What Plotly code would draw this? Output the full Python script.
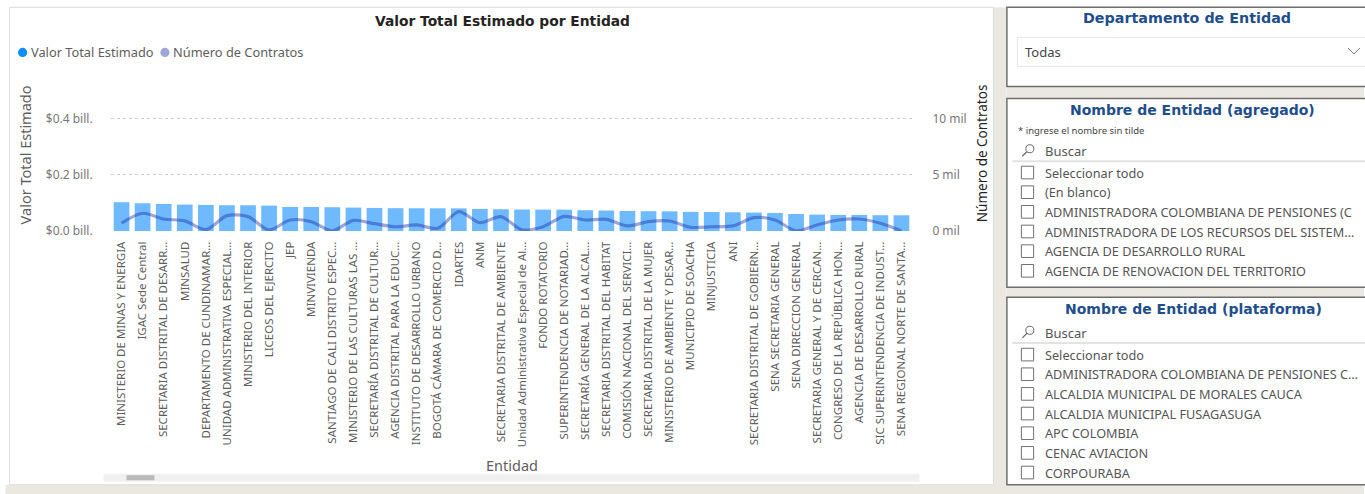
import plotly.graph_objects as go

entidades = [
    "MINISTERIO DE MINAS Y ENERGIA", "IGAC Sede Central", "SECRETARIA DISTRITAL DE DESARR…",
    "MINSALUD", "DEPARTAMENTO DE CUNDINAMAR…", "UNIDAD ADMINISTRATIVA ESPECIAL…",
    "MINISTERIO DEL INTERIOR", "LICEOS DEL EJERCITO", "JEP", "MINVIVIENDA",
    "SANTIAGO DE CALI DISTRITO ESPEC…", "MINISTERIO DE LAS CULTURAS LAS …",
    "SECRETARÍA DISTRITAL DE CULTUR…", "AGENCIA DISTRITAL PARA LA EDUC…",
    "INSTITUTO DE DESARROLLO URBANO", "BOGOTÁ CÁMARA DE COMERCIO D…", "IDARTES", "ANM",
    "SECRETARIA DISTRITAL DE AMBIENTE", "Unidad Administrativa Especial de Al…",
    "FONDO ROTATORIO", "SUPERINTENDENCIA DE NOTARIAD…", "SECRETARÍA GENERAL DE LA ALCAL…",
    "SECRETARIA DISTRITAL DEL HABITAT", "COMISIÓN NACIONAL DEL SERVICI…",
    "SECRETARIA DISTRITAL DE LA MUJER", "MINISTERIO DE AMBIENTE Y DESAR…",
    "MUNICIPIO DE SOACHA", "MINJUSTICIA", "ANI", "SECRETARIA DISTRITAL DE GOBIERN…",
    "SENA SECRETARIA GENERAL", "SENA DIRECCION GENERAL", "SECRETARIA GENERAL Y DE CERCAN…",
    "CONGRESO DE LA REPÚBLICA HON…", "AGENCIA DE DESARROLLO RURAL",
    "SIC SUPERINTENDENCIA DE INDUST…", "SENA REGIONAL NORTE DE SANTA…",
]

# Valor Total Estimado (pesos)
valor_total = [
    102.5e9, 98.9e9, 96.4e9, 94.0e9, 92.9e9, 91.8e9, 91.6e9, 90.4e9, 85.7e9, 85.5e9,
    84.6e9, 83.3e9, 82.1e9, 81.2e9, 81.0e9, 80.8e9, 80.5e9, 78.6e9, 77.5e9, 76.5e9,
    76.2e9, 76.0e9, 74.0e9, 73.0e9, 71.5e9, 70.5e9, 70.0e9, 68.0e9, 67.6e9, 66.7e9,
    65.5e9, 64.3e9, 60.7e9, 58.3e9, 57.2e9, 57.0e9, 56.2e9, 56.0e9,
]

# Número de Contratos
contratos = [
    710, 1580, 1070, 900, 120, 1370, 1280, 100, 980, 830,
    20, 950, 650, 380, 540, 240, 1720, 740, 1280, 100,
    380, 1300, 980, 1040, 450, 830, 890, 330, 380, 450,
    1190, 980, 20, 540, 980, 1070, 690, 10,
]

y_ticks = [0, 0.2e12, 0.4e12]
y_ticktext = ["$0.0 bill.", "$0.2 bill.", "$0.4 bill."]
y2_ticks = [0, 5000, 10000]
y2_ticktext = ["0 mil", "5 mil", "10 mil"]

slicer_agregado = ["Seleccionar todo", "(En blanco)", "ADMINISTRADORA COLOMBIANA DE PENSIONES (C",
                   "ADMINISTRADORA DE LOS RECURSOS DEL SISTEM…", "AGENCIA DE DESARROLLO RURAL",
                   "AGENCIA DE RENOVACION DEL TERRITORIO"]
slicer_plataforma = ["Seleccionar todo", "ADMINISTRADORA COLOMBIANA DE PENSIONES C…",
                     "ALCALDIA MUNICIPAL DE MORALES CAUCA", "ALCALDIA MUNICIPAL FUSAGASUGA",
                     "APC COLOMBIA", "CENAC AVIACION", "CORPOURABA"]

# ---- layout geometry (pixels) ----
FW, FH = 1365, 494
L, R, B = 110.5, 912.5, 231.0
YMAX = 0.47e12
H = YMAX / 0.2e12 * 56.0
T = B - H
W = R - L
Y2MAX = YMAX / 0.2e12 * 5000


def px(x, y):
    return (x - L) / W, (B - y) / H


FONT = "Noto Sans"
BOLD = "DejaVu Sans"

fig = go.Figure()
fig.add_trace(go.Bar(
    x=entidades, y=valor_total, name="Valor Total Estimado",
    marker=dict(color="#118DFF", line=dict(width=0)), opacity=0.6,
    showlegend=False, hoverinfo="x+y",
))
fig.add_trace(go.Scatter(
    x=entidades, y=contratos, name="Número de Contratos", yaxis="y2",
    mode="lines", line=dict(color="#12239E", width=3.2, shape="spline", smoothing=0.8),
    opacity=0.4, showlegend=False,
))

shapes = []
annotations = []


def rect(x0, y0, x1, y1, fill=None, line=None, lw=1, layer="below"):
    a0, b0 = px(x0, y0)
    a1, b1 = px(x1, y1)
    shapes.append(dict(type="rect", xref="paper", yref="paper", x0=a0, y0=b0, x1=a1, y1=b1,
                       fillcolor=fill if fill else "rgba(0,0,0,0)",
                       line=dict(color=line if line else "rgba(0,0,0,0)", width=lw if line else 0),
                       layer=layer))


def seg(x0, y0, x1, y1, color, lw=1, layer="above"):
    a0, b0 = px(x0, y0)
    a1, b1 = px(x1, y1)
    shapes.append(dict(type="line", xref="paper", yref="paper", x0=a0, y0=b0, x1=a1, y1=b1,
                       line=dict(color=color, width=lw), layer=layer))


def circ(cx, cy, r, fill=None, line=None, lw=1, layer="above"):
    a0, b0 = px(cx - r, cy + r)
    a1, b1 = px(cx + r, cy - r)
    shapes.append(dict(type="circle", xref="paper", yref="paper", x0=a0, y0=b0, x1=a1, y1=b1,
                       fillcolor=fill if fill else "rgba(0,0,0,0)",
                       line=dict(color=line if line else "rgba(0,0,0,0)", width=lw if line else 0),
                       layer=layer))


def text(x, y, s, size=12, color="#605E5C", family=FONT, xanchor="left", angle=0, bold=False):
    a, b = px(x, y)
    annotations.append(dict(xref="paper", yref="paper", x=a, y=b, text=("<b>%s</b>" % s) if bold else s,
                            showarrow=False, xanchor=xanchor, yanchor="middle", textangle=angle,
                            font=dict(size=size, color=color, family=family)))


BEIGE = "#EAE8E0"
# page background pieces
rect(994, 8, 1007, FH, fill=BEIGE)
rect(5, 484, FW, FH, fill=BEIGE)
rect(1007, 87, FW, 99, fill=BEIGE)
rect(1007, 287, FW, 297, fill=BEIGE)
# chart card
rect(9, 8, 994, 484, fill="white", line="#DCDCDC", lw=1)
# slicer cards
for (y0, y1) in [(8, 87), (99, 287), (297, 484)]:
    rect(1007.5, y0, FW + 2, y1, fill="white", line="#6E6E6E", lw=1.5)

# chart title and legend
text(502, 21.5, "Valor Total Estimado por Entidad", size=13.8, color="#252423", family=BOLD,
     xanchor="center", bold=True)
circ(22, 53, 4.6, fill="#118DFF")
text(28.5, 53, "Valor Total Estimado", size=12.8)
circ(164.5, 53, 4.6, fill="#A0A7D8")
text(171, 53, "Número de Contratos", size=12.8)

# axis titles
text(24, 155, "Valor Total Estimado", size=14.5, color="#605E5C", xanchor="center", angle=-90)
text(982, 153, "Número de Contratos", size=13.5, color="#252423", xanchor="center", angle=-90)
text(511.5, 464, "Entidad", size=14.5, color="#605E5C", xanchor="center")

# scrollbar
rect(103, 473, 920, 481, fill="#F0F0F0", layer="above")
rect(126, 474.5, 154, 479.5, fill="#B9B9B9", layer="above")

# slicer 1
text(1188, 18.5, "Departamento de Entidad", size=14.3, color="#1F4E8C", family=BOLD,
     xanchor="center", bold=True)
rect(1018, 38, FW + 2, 67, fill="white", line="#E6E6E6", lw=1, layer="above")
text(1023.5, 53, "Todas", size=13, color="#444444")
seg(1349, 48.5, 1355, 54.5, "#777777", 1)
seg(1355, 54.5, 1361, 48.5, "#777777", 1)


def search_row(y):
    circ(1030.5, y - 2.5, 4, line="#666666", lw=1)
    seg(1027.6, y + 0.4, 1023, y + 5, "#666666", 1.2)
    text(1043.5, y, "Buscar", size=13, color="#555555")


def items(rows, y_start, step):
    for i, s in enumerate(rows):
        y = y_start + i * step
        rect(1022, y - 6.3, 1034.3, y + 6.3, fill="white", line="#707070", lw=1, layer="above")
        text(1043.3, y, s, size=12.7, color="#555555")


# slicer 2
text(1193.5, 110.5, "Nombre de Entidad (agregado)", size=14, color="#1F4E8C", family=BOLD,
     xanchor="center", bold=True)
text(1017, 130.5, "* ingrese el nombre sin tilde", size=9.5, color="#444444")
search_row(151.5)
seg(1013, 161.5, FW + 2, 161.5, "#E3E3E3", 2)
items(slicer_agregado, 172.7, 19.6)

# slicer 3
text(1194.5, 308.5, "Nombre de Entidad (plataforma)", size=14, color="#1F4E8C", family=BOLD,
     xanchor="center", bold=True)
search_row(332.5)
seg(1013, 342.7, FW + 2, 342.7, "#E3E3E3", 2)
items(slicer_plataforma, 354.2, 19.6)

fig.update_layout(
    width=FW, height=FH,
    margin=dict(l=L, r=FW - R, t=T, b=FH - B, pad=0, autoexpand=False),
    paper_bgcolor="white", plot_bgcolor="rgba(0,0,0,0)",
    bargap=0.255, showlegend=False,
    shapes=shapes, annotations=annotations,
    font=dict(family=FONT, color="#605E5C"),
    xaxis=dict(type="category", range=[-0.5, len(entidades) - 0.5], tickangle=-90,
               tickmode="array", tickvals=entidades, ticktext=entidades,
               tickfont=dict(size=11.5, color="#605E5C", family=FONT),
               ticks="outside", ticklen=5, tickcolor="rgba(0,0,0,0)",
               showline=False, showgrid=False, zeroline=False, automargin=False, fixedrange=True),
    yaxis=dict(range=[0, YMAX], tickmode="array", tickvals=y_ticks, ticktext=y_ticktext,
               tickfont=dict(size=12, color="#777777", family=FONT),
               ticks="outside", ticklen=15, tickcolor="rgba(0,0,0,0)",
               showgrid=True, gridcolor="#CFCFCF", griddash="dot", gridwidth=1,
               zeroline=False, showline=False, automargin=False, fixedrange=True),
    yaxis2=dict(range=[0, Y2MAX], overlaying="y", side="right", tickmode="array",
                tickvals=y2_ticks, ticktext=y2_ticktext,
                tickfont=dict(size=12, color="#777777", family=FONT),
                ticks="outside", ticklen=17, tickcolor="rgba(0,0,0,0)",
                showgrid=False, zeroline=False, showline=False, automargin=False, fixedrange=True),
)

fig.write_html(
    "out.html",
    config={"displayModeBar": False},
    post_script="document.body.style.margin='0px';document.body.style.padding='0px';"
                "document.body.style.overflow='hidden';",
)
